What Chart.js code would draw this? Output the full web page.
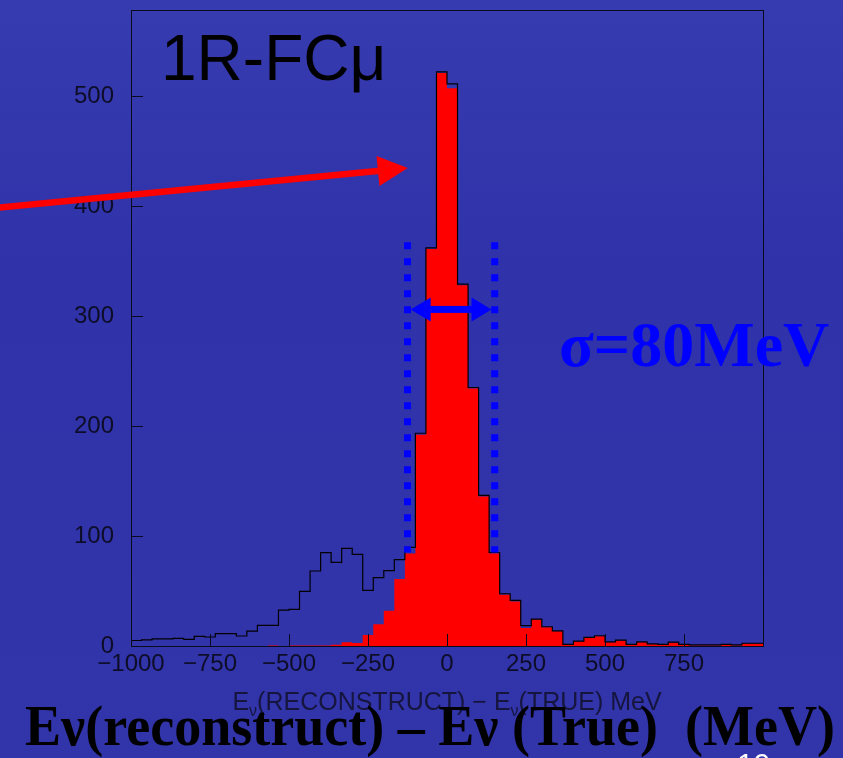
<!DOCTYPE html>
<html>
<head>
<meta charset="utf-8">
<script src="https://cdn.jsdelivr.net/npm/chart.js@4.4.0/dist/chart.umd.min.js"></script>
<style>
html,body{margin:0;padding:0;background:#3134aa;}
canvas{display:block;}
</style>
</head>
<body>
<canvas id="c" width="843" height="758"></canvas>
<script>
// ---- data ----
const binLow = [-1000,-966.7,-933.3,-900,-866.7,-833.3,-800,-766.7,-733.3,-700,
  -666.7,-633.3,-600,-566.7,-533.3,-500,-466.7,-433.3,-400,-366.7,
  -333.3,-300,-266.7,-233.3,-200,-166.7,-133.3,-100,-66.7,-33.3,
  0,33.3,66.7,100,133.3,166.7,200,233.3,266.7,300,
  333.3,366.7,400,433.3,466.7,500,533.3,566.7,600,633.3,
  666.7,700,733.3,766.7,800,833.3,866.7,900,933.3,966.7];
const rangeEnd = 1000;
// red filled histogram (CCQE)
const ccqeCounts = [0,0,0,0,0,0,0,0,0,0,
  0,0,0,0.5,0,0.5,0.5,0.5,0.5,1.2,
  3.3,2.7,10,19.7,32,61,84.2,192,361,521,
  507,328,234,136,84,46.5,40.5,16.4,24,17,
  13.3,1,4,7.3,8.8,3.3,4.8,1,3.3,1.5,
  1,3,1,0.5,0.5,0.5,1,0.5,2,2];
// black outline histogram (all events)
const totalCounts = [5,5.5,6.4,6.4,7,6.1,8.8,8.2,11.2,11.2,
  9.1,13.6,18.8,18.8,32.7,33.3,49.7,68.2,84.8,76,
  88.8,83.3,50.6,62.1,68.5,78.5,89.7,193.4,362,522,
  511,329,235,137,85,47.5,41.5,18.5,24.5,17.5,
  13.8,1.5,4.5,7.8,9.3,3.8,5.3,1.5,3.8,2,
  1.5,3.5,1.5,1,1,1,1.5,1,2.5,2.5];
const xTickValues = [-1000,-750,-500,-250,0,250,500,750];
const yTickValues = [0,100,200,300,400,500];

// annotation anchors in data units
const sigmaBand = [-125, 151];          // dotted vertical lines
const sigmaBandY = [85, 367];
const sigmaArrowX = [-115, 141];
const sigmaArrowY = 306;
const redArrowFrom = [-1420, 398.5];
const redArrowTo = [-124, 434.5];

function stepPoints(counts){
  const pts = binLow.map((x,i)=>({x:x, y:counts[i]}));
  pts.push({x:rangeEnd, y:counts[counts.length-1]});
  return pts;
}
function fmt(v){ return v < 0 ? '\u2212' + Math.abs(v) : String(v); }

const decorations = {
  id: 'decorations',
  beforeDraw(chart){
    const ctx = chart.ctx;
    ctx.save();
    const g = ctx.createLinearGradient(0,0,0,758);
    g.addColorStop(0,'#373bb0');
    g.addColorStop(0.35,'#2f32a8');
    g.addColorStop(1,'#3234aa');
    ctx.fillStyle = g;
    ctx.fillRect(0,0,chart.width,chart.height);
    ctx.restore();
  },
  afterDatasetsDraw(chart){
    const ctx = chart.ctx, a = chart.chartArea;
    const xs = chart.scales.x, ys = chart.scales.y;
    ctx.save();
    // frame
    ctx.strokeStyle = '#0a0a1e';
    ctx.lineWidth = 1;
    ctx.strokeRect(a.left+0.5, a.top+0.5, a.right-a.left, a.bottom-a.top);
    // inward ticks
    ctx.beginPath();
    yTickValues.forEach(v=>{
      const y = Math.round(ys.getPixelForValue(v))+0.5;
      ctx.moveTo(a.left, y); ctx.lineTo(a.left+12, y);
    });
    xTickValues.forEach(v=>{
      const x = Math.round(xs.getPixelForValue(v))+0.5;
      ctx.moveTo(x, a.bottom); ctx.lineTo(x, a.bottom-12);
    });
    ctx.stroke();
    ctx.restore();
  },
  afterDraw(chart){
    const ctx = chart.ctx, a = chart.chartArea;
    const xs = chart.scales.x, ys = chart.scales.y;
    const px = v => xs.getPixelForValue(v), py = v => ys.getPixelForValue(v);
    ctx.save();

    // panel label
    ctx.fillStyle = '#000';
    ctx.font = '64px "Liberation Sans", Arial, sans-serif';
    ctx.textBaseline = 'alphabetic';
    ctx.textAlign = 'left';
    ctx.fillText('1R-FC\u03BC', a.left+30, a.top+70);

    // blue dotted lines
    ctx.strokeStyle = '#0000ff';
    ctx.lineWidth = 7;
    ctx.setLineDash([7,9]);
    ctx.lineCap = 'butt';
    sigmaBand.forEach(v=>{
      const x = px(v);
      ctx.beginPath();
      ctx.moveTo(x, py(sigmaBandY[1]));
      ctx.lineTo(x, py(sigmaBandY[0]));
      ctx.stroke();
    });
    ctx.setLineDash([]);

    // blue double arrow
    const ay = py(sigmaArrowY), ax0 = px(sigmaArrowX[0]), ax1 = px(sigmaArrowX[1]);
    ctx.fillStyle = '#0000ff';
    ctx.fillRect(ax0+15, ay-3.5, ax1-ax0-30, 7);
    ctx.beginPath();
    ctx.moveTo(ax0, ay); ctx.lineTo(ax0+20, ay-12); ctx.lineTo(ax0+20, ay+12); ctx.closePath();
    ctx.moveTo(ax1, ay); ctx.lineTo(ax1-20, ay-12); ctx.lineTo(ax1-20, ay+12); ctx.closePath();
    ctx.fill();

    // red arrow
    const rx0 = px(redArrowFrom[0]), ry0 = py(redArrowFrom[1]);
    const rx1 = px(redArrowTo[0]), ry1 = py(redArrowTo[1]);
    const ang = Math.atan2(ry1-ry0, rx1-rx0);
    const hl = 30, hw = 15;
    const bx = rx1 - hl*Math.cos(ang), by = ry1 - hl*Math.sin(ang);
    ctx.strokeStyle = '#ff0000';
    ctx.lineWidth = 6.5;
    ctx.beginPath(); ctx.moveTo(rx0, ry0); ctx.lineTo(bx+2*Math.cos(ang), by+2*Math.sin(ang)); ctx.stroke();
    ctx.fillStyle = '#ff0000';
    ctx.beginPath();
    ctx.moveTo(rx1, ry1);
    ctx.lineTo(bx - hw*Math.sin(ang), by + hw*Math.cos(ang));
    ctx.lineTo(bx + hw*Math.sin(ang), by - hw*Math.cos(ang));
    ctx.closePath(); ctx.fill();

    // sigma label
    ctx.fillStyle = '#0000ff';
    ctx.font = 'bold 64px "Liberation Serif", "Times New Roman", serif';
    ctx.textAlign = 'left';
    ctx.fillText('\u03C3=80MeV', 559, 366);

    // axis title with subscripts
    ctx.fillStyle = '#15153e';
    const fs = 25, sub = 16;
    const parts = [['E',fs,0],['\u03BD',sub,6],['(RECONSTRUCT) \u2212 E',fs,0],['\u03BD',sub,6],['(TRUE) MeV',fs,0]];
    let total = 0;
    parts.forEach(p=>{ ctx.font = p[1]+'px "Liberation Sans", Arial, sans-serif'; total += ctx.measureText(p[0]).width; });
    let tx = (a.left + a.right)/2 - total/2;
    const tyBase = 710;
    parts.forEach(p=>{
      ctx.font = p[1]+'px "Liberation Sans", Arial, sans-serif';
      ctx.fillText(p[0], tx, tyBase + p[2]);
      tx += ctx.measureText(p[0]).width;
    });

    // big bold caption
    ctx.fillStyle = '#000';
    ctx.font = 'bold 56px "Liberation Serif", "Times New Roman", serif';
    ctx.fillText('E\u03BD(reconstruct) \u2013 E\u03BD (True)  (MeV)', 25, 745, 810);

    // slide number (cut off)
    ctx.fillStyle = '#ffffff';
    ctx.font = '30px "Liberation Sans", Arial, sans-serif';
    ctx.fillText('19', 737, 774);
    ctx.restore();
  }
};

new Chart(document.getElementById('c'), {
  type: 'line',
  data: {
    datasets: [
      {
        label: 'all',
        data: stepPoints(totalCounts),
        stepped: 'before',
        borderColor: '#000000',
        borderWidth: 1.2,
        pointRadius: 0,
        fill: false,
        order: 0
      },
      {
        label: 'CCQE',
        data: stepPoints(ccqeCounts),
        stepped: 'before',
        borderColor: 'rgba(0,0,0,0)',
        borderWidth: 0,
        backgroundColor: '#ff0000',
        pointRadius: 0,
        fill: 'origin',
        order: 1
      }
    ]
  },
  options: {
    responsive: false,
    animation: false,
    devicePixelRatio: 1,
    layout: { padding: { left: 0, right: 80, top: 10, bottom: 0 } },
    plugins: { legend: { display: false }, tooltip: { enabled: false } },
    scales: {
      x: {
        type: 'linear', min: -1000, max: 1000,
        grid: { display: false, drawTicks: false },
        border: { display: false },
        afterBuildTicks: s => { s.ticks = xTickValues.map(v=>({value:v})); },
        afterFit: s => { s.height = 112; s.paddingLeft = 0; s.paddingRight = 0; },
        ticks: {
          autoSkip: false, maxRotation: 0, padding: 4,
          color: '#0d0d28',
          font: { family: '"Liberation Sans", Arial, sans-serif', size: 24 },
          callback: v => fmt(v)
        }
      },
      y: {
        min: 0, max: 578.2,
        grid: { display: false, drawTicks: false },
        border: { display: false },
        afterBuildTicks: s => { s.ticks = yTickValues.map(v=>({value:v})); },
        afterFit: s => { s.width = 131; s.paddingTop = 0; s.paddingBottom = 0; },
        ticks: {
          autoSkip: false, padding: 17,
          color: '#0d0d28',
          font: { family: '"Liberation Sans", Arial, sans-serif', size: 24 },
          callback: v => fmt(v)
        }
      }
    }
  },
  plugins: [decorations]
});
</script>
</body>
</html>
